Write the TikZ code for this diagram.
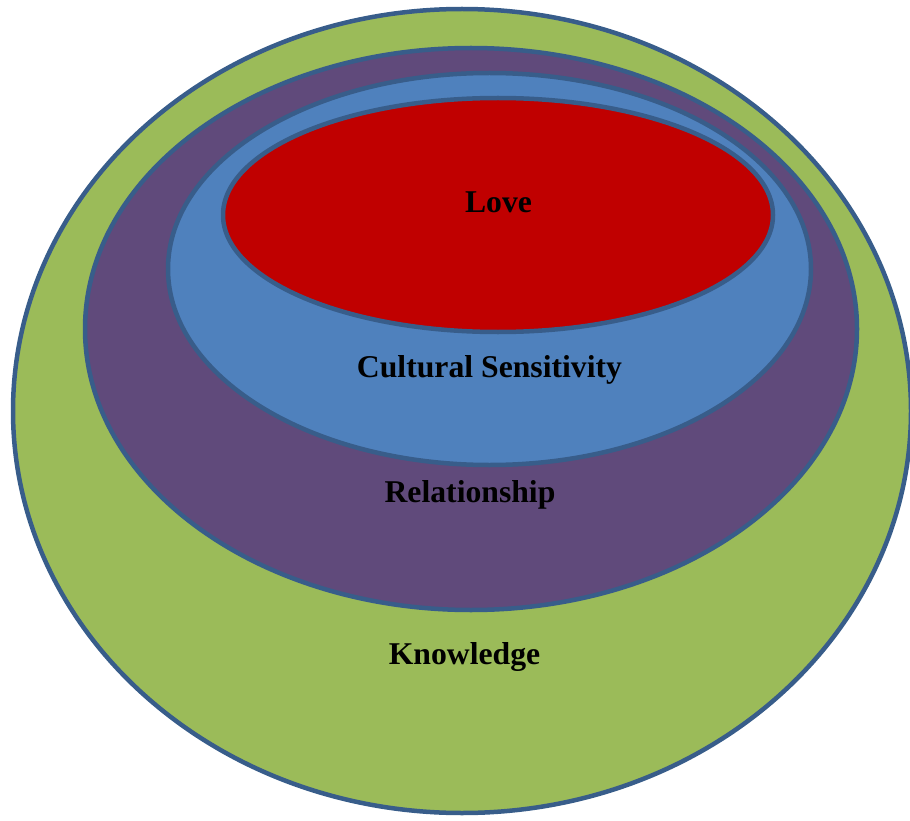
\documentclass[tikz,border=0pt]{standalone}
\usepackage{fontspec}
\setmainfont{Liberation Serif}
\definecolor{ringline}{HTML}{385D8A}
\definecolor{knowfill}{HTML}{9BBB59}
\definecolor{relfill}{HTML}{604A7B}
\definecolor{culfill}{HTML}{4F81BD}
\definecolor{lovefill}{HTML}{C00000}
\tikzset{
  ring/.style={draw=ringline, line width=4.5pt},
  ringlabel/.style={anchor=base, inner sep=0pt, text=black,
    font=\fontsize{31.7}{38}\selectfont\bfseries}
}
\begin{document}
\begin{tikzpicture}[x=1pt,y=-1pt]
  \useasboundingbox (0,0) rectangle (910,821);
  \clip (0,0) rectangle (910,821);
  % nested rings, outermost first
  \draw[ring, fill=knowfill] (462,411) ellipse [x radius=449, y radius=402];
  \draw[ring, fill=relfill]  (471,329) ellipse [x radius=386, y radius=281];
  \draw[ring, fill=culfill]  (489.5,269) ellipse [x radius=321.5, y radius=196];
  \draw[ring, fill=lovefill] (498,215) ellipse [x radius=275, y radius=117];
  % labels
  \node[ringlabel] (love) at (498.5,212) {Love};
  \node[ringlabel] (culture) at (489.5,377) {Cultural Sensitivity};
  \node[ringlabel] (relation) at (470,502) {Relationship};
  \node[ringlabel] (knowledge) at (464.5,664) {Knowledge};
\end{tikzpicture}
\end{document}
